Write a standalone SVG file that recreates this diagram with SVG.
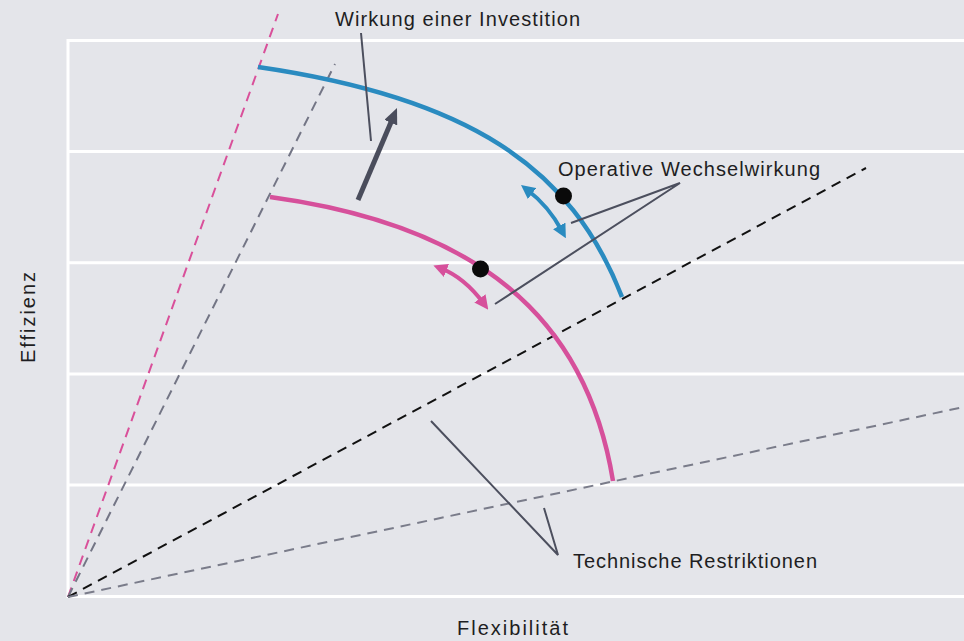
<svg xmlns="http://www.w3.org/2000/svg" width="964" height="641" viewBox="0 0 964 641">
<style>
.grid{stroke:#ffffff;stroke-width:3;fill:none}
.dash{fill:none;stroke-width:2;stroke-dasharray:10 7}
.lead{fill:none;stroke:#4c4f5e;stroke-width:2}
.txt{font-family:"Liberation Sans","DejaVu Sans",sans-serif;font-size:20px;fill:#1e1e22}
.blue{fill:none;stroke:#2a8bc0;stroke-width:4.5}
.pink{fill:none;stroke:#d6509b;stroke-width:4.5}
.dot{fill:#0a0a0a}
</style>
<defs>
<marker id="hb" viewBox="0 0 12 12" markerUnits="userSpaceOnUse" markerWidth="14" markerHeight="14" refX="5" refY="6" orient="auto-start-reverse"><path d="M0,0 L12,6 L0,12 z" fill="#2a8bc0"/></marker>
<marker id="hp" viewBox="0 0 12 12" markerUnits="userSpaceOnUse" markerWidth="14" markerHeight="14" refX="5" refY="6" orient="auto-start-reverse"><path d="M0,0 L12,6 L0,12 z" fill="#d6509b"/></marker>
<marker id="hd" viewBox="0 0 16 14" markerUnits="userSpaceOnUse" markerWidth="16" markerHeight="14" refX="6" refY="7" orient="auto"><path d="M0,0 L16,7 L0,14 z" fill="#4a4d5c"/></marker>
</defs>
<rect width="964" height="641" fill="#e4e5ea"/>
<g id="grid">
<path class="grid" d="M68,40.5 H964 M68,151.5 H964 M68,262.8 H964 M68,374 H964 M68,485 H964 M68,596.5 H964 M68,39 V598"/>
</g>
<g id="restriction-lines">
<line class="dash" x1="68" y1="597" x2="278" y2="14" stroke="#d9509a"/>
<line class="dash" x1="68" y1="597" x2="335" y2="64" stroke="#737585"/>
<line class="dash" x1="68" y1="597" x2="866" y2="168" stroke="#111111"/>
<line class="dash" x1="68" y1="597" x2="964" y2="407" stroke="#7a7c8a"/>
</g>
<g id="curve-blue">
<path class="blue" d="M258,67 C468,97.5 571.6,166.8 622,297"/>
<circle class="dot" cx="563.5" cy="196" r="8.5"/>
</g>
<g id="curve-pink">
<path class="pink" d="M270,197 C475,225 586,315 613,481"/>
<circle class="dot" cx="480.5" cy="269" r="8.5"/>
</g>
<g id="connectors">
<path d="M527.5,190 Q548.6,206.1 562,231" fill="none" stroke="#2a8bc0" stroke-width="4" marker-start="url(#hb)" marker-end="url(#hb)"/>
<path d="M441,268.4 Q464.4,277.6 483.4,303.1" fill="none" stroke="#d6509b" stroke-width="4" marker-start="url(#hp)" marker-end="url(#hp)"/>
<line x1="358" y1="200" x2="393.1" y2="117.2" stroke="#4a4d5c" stroke-width="5" marker-end="url(#hd)"/>
<line class="lead" x1="361" y1="33" x2="371" y2="141"/>
<polyline class="lead" points="571,223 680,183 495,304"/>
<polyline class="lead" points="431,421 558,555 544,508"/>
</g>
<g id="labels">
<text class="txt" x="335" y="26" textLength="245">Wirkung einer Investition</text>
<text class="txt" x="558" y="176" textLength="262">Operative Wechselwirkung</text>
<text class="txt" x="573" y="568" textLength="244">Technische Restriktionen</text>
<text class="txt" x="457" y="635" textLength="111">Flexibilität</text>
<text class="txt" transform="translate(35,363) rotate(-90)" x="0" y="0" textLength="91">Effizienz</text>
</g>
</svg>
